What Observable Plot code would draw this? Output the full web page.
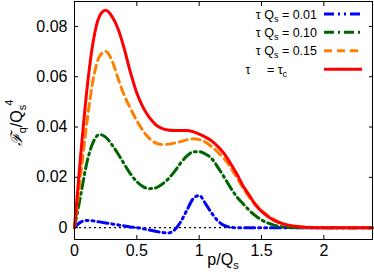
<!DOCTYPE html>
<html><head><meta charset="utf-8">
<script src="https://cdn.jsdelivr.net/npm/d3@7"></script>
<script src="https://cdn.jsdelivr.net/npm/@observablehq/plot@0.6"></script>
<style>html,body{margin:0;padding:0;background:#fff} svg{display:block}</style>
</head><body><div id="chart"></div>
<script>
const p = [0,0.05,0.1,0.15,0.2,0.25,0.3,0.35,0.4,0.45,0.5,0.55,0.6,0.65,0.7,0.75,0.8,0.85,0.9,0.95,1.0,1.05,1.1,1.15,1.2,1.25,1.3,1.35,1.4,1.45,1.5,1.6,1.7,1.8,1.9,2.0,2.2,2.39];
const tau001 = [0,0.0022,0.0029,0.0027,0.0023,0.0019,0.0015,0.0011,0.0007,0.0003,0.0000,-0.0004,-0.0009,-0.0014,-0.0019,-0.0021,-0.0010,0.0022,0.0068,0.0114,0.0128,0.0096,0.0058,0.0027,0.0009,0.0002,0,0,0,0,0,0,0,0,0,0,0,0];
const tau010 = [0,0.013,0.026,0.034,0.037,0.036,0.033,0.0293,0.0252,0.0213,0.0183,0.0163,0.0155,0.0158,0.0172,0.0193,0.0222,0.0256,0.0284,0.0301,0.0302,0.0293,0.0275,0.0240,0.0201,0.0160,0.0124,0.0096,0.0070,0.0048,0.0031,0.0010,0.0002,0,0,0,0,0];
const tau015 = [0,0.021,0.042,0.059,0.068,0.0701,0.0665,0.0592,0.0525,0.0473,0.0425,0.0385,0.0355,0.0337,0.0331,0.0332,0.0336,0.0342,0.0349,0.0353,0.0350,0.0340,0.0322,0.0300,0.0275,0.0240,0.0201,0.0160,0.0122,0.0092,0.0068,0.0032,0.0012,0.0004,0.0001,0,0,0];
const tauC = [0,0.029,0.055,0.074,0.084,0.0864,0.084,0.079,0.071,0.0615,0.0535,0.0478,0.0438,0.041,0.0395,0.0388,0.0386,0.0386,0.0386,0.0382,0.0372,0.036,0.0345,0.0322,0.0294,0.0256,0.0215,0.0168,0.013,0.0092,0.0065,0.0029,0.0011,0.0004,0.0001,0,0,0];
const xTicks = [0,0.5,1,1.5,2];
const yTicks = [0,0.02,0.04,0.06,0.08];
const legendValues = ["0.01","0.10","0.15"];

const series = [
  {key:"0.01", values:tau001, color:"#0000ff", dash:"10,4,2,4,2,4"},
  {key:"0.10", values:tau010, color:"#006400", dash:"10,4,2,4"},
  {key:"0.15", values:tau015, color:"#ff7f00", dash:"8,5"},
  {key:"c", values:tauC, color:"#ff0000", dash:null}
];
const data = series.flatMap(s => p.map((x,i) => ({p:x, F:s.values[i], key:s.key})));

const W = 374, H = 274;
const plot = Plot.plot({
  width: W, height: H,
  marginLeft: 74, marginRight: 2, marginTop: 1, marginBottom: 35,
  style: {fontFamily: "'Liberation Sans', Arial, sans-serif", color: "#000", background: "#fff"},
  x: {domain: [0, 2.39]},
  y: {domain: [-0.0047, 0.0899]},
  marks: [
    Plot.ruleY([0], {stroke: "#000", strokeDasharray: "2,3", strokeWidth: 1.2}),
    ...series.map(s => Plot.line(data.filter(d => d.key === s.key), {
      x: "p", y: "F", stroke: s.color, strokeWidth: 3, strokeDasharray: s.dash, curve: "monotone-x"
    })),
    Plot.frame({stroke: "#000", strokeWidth: 1}),
    Plot.axisX(xTicks, {anchor: "bottom", tickSize: -4, tickFormat: () => "", label: null}),
    Plot.axisX(xTicks, {anchor: "top", tickSize: -4, tickFormat: () => "", label: null}),
    Plot.axisY(yTicks, {anchor: "left", tickSize: -4, tickFormat: () => "", label: null}),
    Plot.axisY(yTicks, {anchor: "right", tickSize: -4, tickFormat: () => "", label: null}),
    Plot.axisX(xTicks, {anchor: "bottom", tickSize: 0, tickPadding: 5, fontSize: 16, tickFormat: d => String(d), label: null}),
    Plot.axisY(yTicks, {anchor: "left", tickSize: 0, tickPadding: 7, fontSize: 16, tickFormat: d => String(d), label: null})
  ]
});
document.getElementById("chart").appendChild(plot);

const svg = d3.select(plot);
const ff = "'Liberation Sans', Arial, sans-serif";
// axis labels
const xl = svg.append("text").attr("x", 223).attr("y", 265).attr("text-anchor", "middle")
  .attr("font-family", ff).attr("font-size", 16).attr("fill", "#000");
xl.append("tspan").text("p/Q");
xl.append("tspan").attr("font-size", 11).attr("dy", 4).text("s");

const yl = svg.append("text").attr("transform", "translate(22,123) rotate(-90)").attr("text-anchor", "middle")
  .attr("font-family", ff).attr("font-size", 16).attr("fill", "#000");
yl.append("tspan").attr("font-family", "'DejaVu Serif', serif").attr("font-style", "italic").text("ℱ");
yl.append("tspan").attr("font-size", 11).attr("dy", 4).text("q");
yl.append("tspan").attr("dy", -4).text("/Q");
yl.append("tspan").attr("font-size", 11).attr("dy", 4).text("s");
yl.append("tspan").attr("font-size", 11).attr("dy", -13).attr("dx", -1).text("4");

// legend
const rowsY = [14, 32.3, 50.7, 69.3];
series.forEach((s, i) => {
  const y = rowsY[i];
  if (i < 3) {
    const t = svg.append("text").attr("x", 317).attr("y", y + 4.5).attr("text-anchor", "end")
      .attr("font-family", ff).attr("font-size", 12.5).attr("fill", "#000");
    t.append("tspan").text("τ Q");
    t.append("tspan").attr("font-size", 9).attr("dy", 3).text("s");
    t.append("tspan").attr("dy", -3).text(" = " + legendValues[i]);
  } else {
    svg.append("text").attr("x", 248).attr("y", y + 4.5)
      .attr("font-family", ff).attr("font-size", 12.5).attr("fill", "#000").text("τ");
    const t = svg.append("text").attr("x", 277).attr("y", y + 4.5)
      .attr("font-family", ff).attr("font-size", 12.5).attr("fill", "#000");
    t.append("tspan").text("= τ");
    t.append("tspan").attr("font-size", 9).attr("dy", 3).text("c");
  }
  svg.append("line").attr("x1", 324).attr("x2", 362).attr("y1", y).attr("y2", y)
    .attr("stroke", s.color).attr("stroke-width", 3).attr("stroke-dasharray", s.dash);
});
</script>
</body></html>
